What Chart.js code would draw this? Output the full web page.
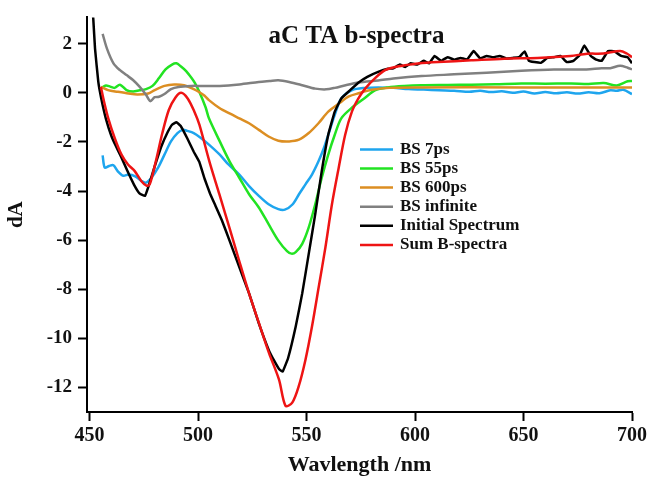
<!DOCTYPE html>
<html>
<head>
<meta charset="utf-8">
<script src="https://cdn.jsdelivr.net/npm/chart.js@4.4.1/dist/chart.umd.min.js"></script>
<style>
  html, body { margin: 0; padding: 0; background: #fff; }
</style>
</head>
<body>
<canvas id="spectraChart" width="650" height="479"></canvas>
<script>
Chart.defaults.font.family = "'Liberation Serif', 'Times New Roman', serif";
Chart.defaults.color = "#000";

const SERIF = "'Liberation Serif', 'Times New Roman', serif";

const COLORS = {
  blue: '#1ea5ee',
  green: '#22e322',
  orange: '#dc8e22',
  gray: '#808080',
  black: '#000000',
  red: '#ee1414'
};

const xTicks = [450, 500, 550, 600, 650, 700];
const yTicks = [2, 0, -2, -4, -6, -8, -10, -12];

const blueNm = [456, 457, 459, 461, 463, 465.5, 468, 471, 474, 476, 478.5, 481.5, 484.5, 487.5, 490.5, 493, 495, 498, 501, 505, 510, 514, 519, 523.5, 528, 532.5, 537, 540, 543.5, 546.5, 549.5, 552.5, 555.5, 558, 560, 563, 566, 571, 577, 583, 590, 597, 604, 611, 618, 625, 630, 635, 640, 645, 650, 655, 660, 665, 670, 675, 680, 685, 690, 693, 696, 700];
const blueDA = [-2.55, -3.05, -2.98, -2.95, -3.2, -3.38, -3.33, -3.4, -3.6, -3.66, -3.46, -3.06, -2.52, -1.98, -1.64, -1.51, -1.55, -1.64, -1.82, -2.11, -2.52, -2.92, -3.33, -3.8, -4.2, -4.54, -4.74, -4.76, -4.55, -4.13, -3.73, -3.33, -2.79, -2.25, -1.71, -0.9, -0.23, 0.11, 0.2, 0.22, 0.2, 0.15, 0.13, 0.1, 0.08, 0.04, 0.08, 0.03, 0.06, 0.0, 0.05, -0.03, 0.03, -0.02, 0.02, -0.03, 0.02, -0.02, 0.1, 0.08, 0.12, -0.05];

const greenNm = [455.5, 457.5, 459.5, 461.5, 464, 467, 470, 473, 476, 479, 482, 485, 488, 490, 492, 494.5, 497, 498.5, 500.5, 503.5, 505, 510, 514.5, 519, 523.5, 528, 532.5, 537, 541, 543, 545, 548, 551, 554, 557, 560, 563, 566, 571, 577, 581.5, 587.5, 595, 603, 615, 626, 637, 649, 660, 672, 680, 687, 693, 698, 700];
const greenDA = [0.2, 0.3, 0.25, 0.2, 0.33, 0.11, 0.05, 0.1, 0.15, 0.28, 0.6, 0.95, 1.15, 1.2, 1.08, 0.88, 0.6, 0.4, 0.05, -0.6, -1.04, -1.98, -2.79, -3.46, -4.13, -4.67, -5.35, -6.02, -6.45, -6.55, -6.49, -6.15, -5.48, -4.54, -3.46, -2.52, -1.71, -1.04, -0.6, -0.2, 0.1, 0.22, 0.28, 0.31, 0.32, 0.33, 0.35, 0.38, 0.37, 0.38, 0.36, 0.4, 0.3, 0.47, 0.48];

const orangeNm = [455.2, 458.5, 463, 468, 472, 477, 480, 484.5, 489, 493.5, 498, 501, 503, 505, 510, 514.5, 519, 523.5, 528, 532.5, 537, 542, 546.5, 551, 555.5, 560, 565, 569.5, 574, 580, 588, 600, 650, 700];
const orangeDA = [0.24, 0.11, 0.04, -0.03, -0.07, -0.03, 0.11, 0.28, 0.34, 0.31, 0.15, 0.0, -0.12, -0.3, -0.63, -0.84, -1.04, -1.24, -1.51, -1.78, -1.95, -1.98, -1.91, -1.64, -1.24, -0.77, -0.43, -0.15, -0.02, 0.12, 0.2, 0.22, 0.22, 0.22];

const grayNm = [456, 458, 461, 464, 467, 470, 473, 476, 478, 480, 482, 484.5, 487.5, 491, 497, 501, 510, 519, 528, 533, 537, 542, 548, 554, 559, 563, 568, 574, 583, 590, 603, 618, 633, 649, 664, 679, 686, 690, 694.5, 698, 700];
const grayDA = [2.4, 1.8, 1.2, 0.92, 0.72, 0.52, 0.25, -0.08, -0.34, -0.18, -0.16, -0.05, 0.15, 0.24, 0.28, 0.28, 0.28, 0.34, 0.44, 0.48, 0.51, 0.44, 0.31, 0.17, 0.14, 0.2, 0.31, 0.42, 0.5, 0.58, 0.68, 0.75, 0.82, 0.9, 0.95, 0.95, 1.0, 1.0, 1.1, 1.02, 0.95];

const blackNm = [450.5, 451.7, 452.5, 454, 455.3, 457.5, 460, 462, 464.5, 467.5, 470.5, 473, 475.5, 477, 480, 483, 486, 488, 490, 492, 495, 498, 500.5, 503, 505.5, 508, 511, 514.5, 519, 523.5, 528, 532.5, 535, 537.5, 539, 541.5, 545, 548, 551, 554, 557, 560, 563, 566, 570, 574, 578, 583, 587.5, 590, 593, 595.5, 598, 601, 604, 606.5, 609, 612, 615, 618, 621, 624, 627, 630, 633, 636, 639, 642, 645, 648, 650.5, 652.5, 655, 658, 661, 664, 667, 670, 673, 676, 678, 681, 683.5, 686, 689, 692, 695, 698, 700];
const blackDA = [4.4, 3.0, 1.8, 0.45, -0.2, -1.05, -1.75, -2.15, -2.6, -3.2, -3.75, -4.1, -4.2, -3.85, -3.0, -2.2, -1.6, -1.3, -1.2, -1.35, -1.85, -2.4, -2.8, -3.5, -4.1, -4.6, -5.2, -6.02, -7.1, -8.17, -9.39, -10.46, -10.9, -11.27, -11.35, -10.8, -9.52, -8.17, -6.56, -4.94, -3.19, -1.71, -0.77, -0.23, 0.1, 0.42, 0.65, 0.85, 0.98, 1.0, 1.15, 1.05, 1.2, 1.15, 1.3, 1.2, 1.5, 1.3, 1.45, 1.35, 1.42, 1.36, 1.7, 1.4, 1.5, 1.45, 1.5, 1.4, 1.42, 1.45, 1.68, 1.3, 1.25, 1.22, 1.42, 1.45, 1.5, 1.25, 1.3, 1.55, 1.93, 1.5, 1.35, 1.3, 1.7, 1.68, 1.5, 1.45, 1.2];

const redNm = [455.2, 456.5, 458.6, 461.6, 464.7, 467.7, 470.8, 473.9, 476.2, 477.7, 480.5, 483.5, 486.5, 489.5, 492.2, 495.2, 498.3, 500.6, 505.2, 509.8, 514.4, 518.9, 523.5, 528.1, 532.7, 537.3, 540.3, 543.4, 546.4, 549.5, 552.5, 555.6, 558.7, 561.7, 564.8, 567.8, 570.9, 573.9, 577, 581.6, 586.2, 590.8, 595.4, 601.4, 610.6, 625.9, 641.1, 656.4, 671.7, 679.3, 686.9, 694.5, 697.6, 700];
const redDA = [0.24, -0.3, -1.04, -1.85, -2.52, -2.92, -3.19, -3.6, -3.78, -3.73, -2.8, -1.65, -0.7, -0.2, 0.0, -0.23, -0.77, -1.3, -2.79, -4.13, -5.48, -6.83, -8.17, -9.39, -10.6, -11.68, -12.75, -12.62, -11.95, -10.87, -9.52, -7.91, -6.29, -4.54, -3.06, -1.71, -0.77, -0.23, 0.17, 0.6, 0.92, 1.05, 1.12, 1.19, 1.25, 1.32, 1.39, 1.42, 1.5, 1.59, 1.6, 1.7, 1.6, 1.45];

function pts(nm, da) {
  return nm.map((x, i) => ({ x: x, y: da[i] }));
}

function series(label, nm, da, color, order, tension) {
  return {
    label: label,
    data: pts(nm, da),
    borderColor: color,
    backgroundColor: color,
    borderWidth: 2.5,
    pointRadius: 0,
    tension: tension,
    order: order
  };
}

// legend sits inside the plot, like the original figure
const insideLegend = {
  id: 'insideLegend',
  afterDraw(chart) {
    const { ctx, chartArea } = chart;
    const x0 = chartArea.left + 273;
    const y0 = chartArea.top + 132;
    const row = 19.1;
    ctx.save();
    ctx.font = "bold 17px " + SERIF;
    ctx.textBaseline = 'middle';
    ctx.textAlign = 'left';
    chart.data.datasets.forEach((ds, i) => {
      const y = y0 + i * row;
      ctx.strokeStyle = ds.borderColor;
      ctx.lineWidth = 2.5;
      ctx.beginPath();
      ctx.moveTo(x0, y);
      ctx.lineTo(x0 + 33, y);
      ctx.stroke();
      ctx.fillStyle = '#111';
      ctx.fillText(ds.label, x0 + 40, y);
    });
    ctx.restore();
  }
};

const innerTitle = {
  id: 'innerTitle',
  afterDraw(chart) {
    const { ctx, chartArea } = chart;
    ctx.save();
    ctx.font = "bold 25px " + SERIF;
    ctx.fillStyle = '#111';
    ctx.textAlign = 'center';
    ctx.textBaseline = 'alphabetic';
    ctx.fillText('aC TA b-spectra', (chartArea.left + chartArea.right) / 2 - 3, 43);
    ctx.restore();
  }
};

const ctx = document.getElementById('spectraChart').getContext('2d');
new Chart(ctx, {
  type: 'line',
  data: {
    datasets: [
      series('BS 7ps', blueNm, blueDA, COLORS.blue, 5, 0.3),
      series('BS 55ps', greenNm, greenDA, COLORS.green, 4, 0.3),
      series('BS 600ps', orangeNm, orangeDA, COLORS.orange, 3, 0.3),
      series('BS infinite', grayNm, grayDA, COLORS.gray, 2, 0.3),
      series('Initial Spectrum', blackNm, blackDA, COLORS.black, 1, 0.1),
      series('Sum B-spectra', redNm, redDA, COLORS.red, 0, 0.3)
    ]
  },
  options: {
    responsive: false,
    animation: false,
    layout: { padding: { top: 15, right: 15, left: 0, bottom: 0 } },
    scales: {
      x: {
        type: 'linear',
        min: 448.8,
        max: 700,
        afterBuildTicks: s => { s.ticks = xTicks.map(v => ({ value: v })); },
        afterFit: s => { s.height = 67; },
        grid: { drawOnChartArea: false, tickLength: 9, tickColor: '#000', tickWidth: 2 },
        border: { color: '#000', width: 2 },
        ticks: { font: { size: 20, weight: 'bold' }, color: '#111', padding: 3, maxRotation: 0 },
        title: { display: true, text: 'Wavlength /nm', font: { size: 22, weight: 'bold' }, color: '#111', padding: { top: 0, bottom: 0 } }
      },
      y: {
        min: -13,
        max: 3.07,
        afterBuildTicks: s => { s.ticks = yTicks.map(v => ({ value: v })); },
        afterFit: s => { s.width = 87; },
        grid: { drawOnChartArea: false, tickLength: 9, tickColor: '#000', tickWidth: 2 },
        border: { color: '#000', width: 2 },
        ticks: { font: { size: 19, weight: 'bold' }, color: '#111', padding: 6 },
        title: { display: true, text: 'dA', font: { size: 21, weight: 'bold' }, color: '#111', padding: { top: 4, bottom: 0 } }
      }
    },
    plugins: {
      legend: { display: false },
      tooltip: { enabled: false }
    }
  },
  plugins: [insideLegend, innerTitle]
});
</script>
</body>
</html>
